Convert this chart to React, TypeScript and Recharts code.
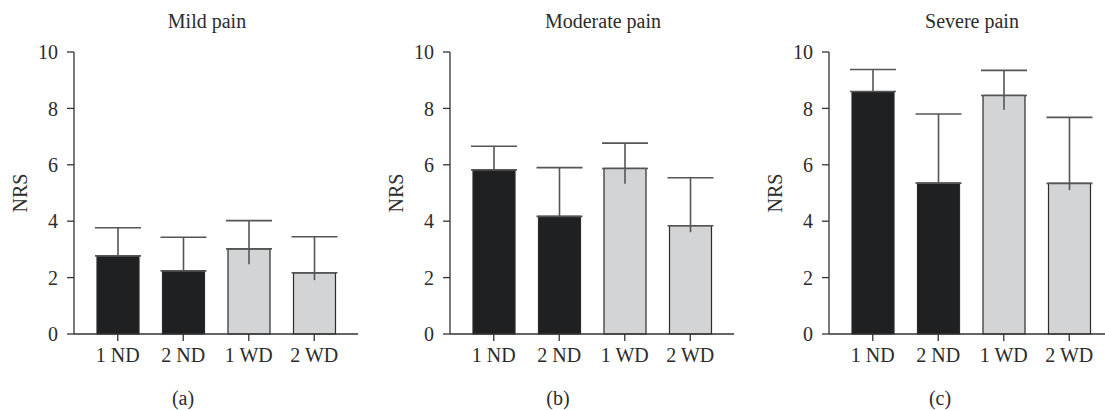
import { Bar, BarChart, Cell, ErrorBar, XAxis, YAxis } from 'recharts'

const categories = ['1 ND', '2 ND', '1 WD', '2 WD']
const yTicks = [0, 2, 4, 6, 8, 10]

const mildMean = [2.77, 2.24, 3.02, 2.17]
const mildUp = [1.0, 1.19, 1.0, 1.28]
const mildDown = [0, 0, 0.55, 0.26]

const moderateMean = [5.82, 4.17, 5.87, 3.84]
const moderateUp = [0.84, 1.73, 0.9, 1.7]
const moderateDown = [0, 0, 0.54, 0.23]

const severeMean = [8.6, 5.35, 8.46, 5.34]
const severeUp = [0.78, 2.45, 0.89, 2.34]
const severeDown = [0, 0, 0.51, 0.24]

const FONT = '"Liberation Serif", "DejaVu Serif", serif'
const TEXT = '#2b2b2b'
const AXIS = '#333'
const barFills = ['#1f2022', '#1f2022', '#d3d4d6', '#d3d4d6']

type PanelProps = {
  left: number
  title: string
  titleX: number
  caption: string
  captionX: number
  mean: number[]
  up: number[]
  down: number[]
}

const textStyle = {
  position: 'absolute' as const,
  fontFamily: FONT,
  fontSize: 20,
  color: TEXT,
  whiteSpace: 'nowrap' as const,
}

function Panel({ left, title, titleX, caption, captionX, mean, up, down }: PanelProps) {
  const data = categories.map((name, i) => ({
    name,
    value: mean[i],
    errUp: [0, up[i]],
    errDown: [down[i], 0],
  }))

  return (
    <>
      <div style={{ position: 'absolute', left: left, top: 0 }}>
        <BarChart width={368} height={410} data={data} margin={{ top: 52, right: 10, left: 0, bottom: 36 }}>
          <XAxis
            dataKey="name"
            height={40}
            padding={{ left: 11, right: 11 }}
            stroke={AXIS}
            strokeWidth={1.3}
            tickSize={7}
            tickMargin={7}
            tick={{ fill: TEXT, fontSize: 20, fontFamily: FONT }}
          />
          <YAxis
            width={74}
            domain={[0, 10]}
            ticks={yTicks}
            stroke={AXIS}
            strokeWidth={1.3}
            tickSize={7}
            tickMargin={9}
            tick={{ fill: TEXT, fontSize: 20, fontFamily: FONT }}
          />
          <Bar dataKey="value" barSize={42} stroke="#2b2b2b" strokeWidth={1.2} isAnimationActive={false}>
            {data.map((d, i) => (
              <Cell key={d.name} fill={barFills[i]} />
            ))}
            <ErrorBar dataKey="errUp" direction="y" width={23} stroke="#555" strokeWidth={1.6} isAnimationActive={false} />
            <ErrorBar dataKey="errDown" direction="y" width={0} stroke="#555" strokeWidth={1.6} isAnimationActive={false} />
          </Bar>
        </BarChart>
      </div>
      <div style={{ ...textStyle, left: left + 20, top: 193, transform: 'translate(-50%, -50%) rotate(-90deg)' }}>
        NRS
      </div>
      <div style={{ ...textStyle, left: titleX, top: 21, transform: 'translate(-50%, -50%)' }}>{title}</div>
      <div style={{ ...textStyle, left: captionX, top: 398, transform: 'translate(-50%, -50%)' }}>{caption}</div>
    </>
  )
}

export default function App() {
  return (
    <div
      style={{
        position: 'absolute',
        left: 0,
        top: 0,
        width: 1105,
        height: 410,
        overflow: 'hidden',
        background: '#fff',
      }}
    >
      <Panel left={0} title="Mild pain" titleX={207} caption="(a)" captionX={183} mean={mildMean} up={mildUp} down={mildDown} />
      <Panel left={376} title="Moderate pain" titleX={603} caption="(b)" captionX={558} mean={moderateMean} up={moderateUp} down={moderateDown} />
      <Panel left={755} title="Severe pain" titleX={972} caption="(c)" captionX={940} mean={severeMean} up={severeUp} down={severeDown} />
    </div>
  )
}
